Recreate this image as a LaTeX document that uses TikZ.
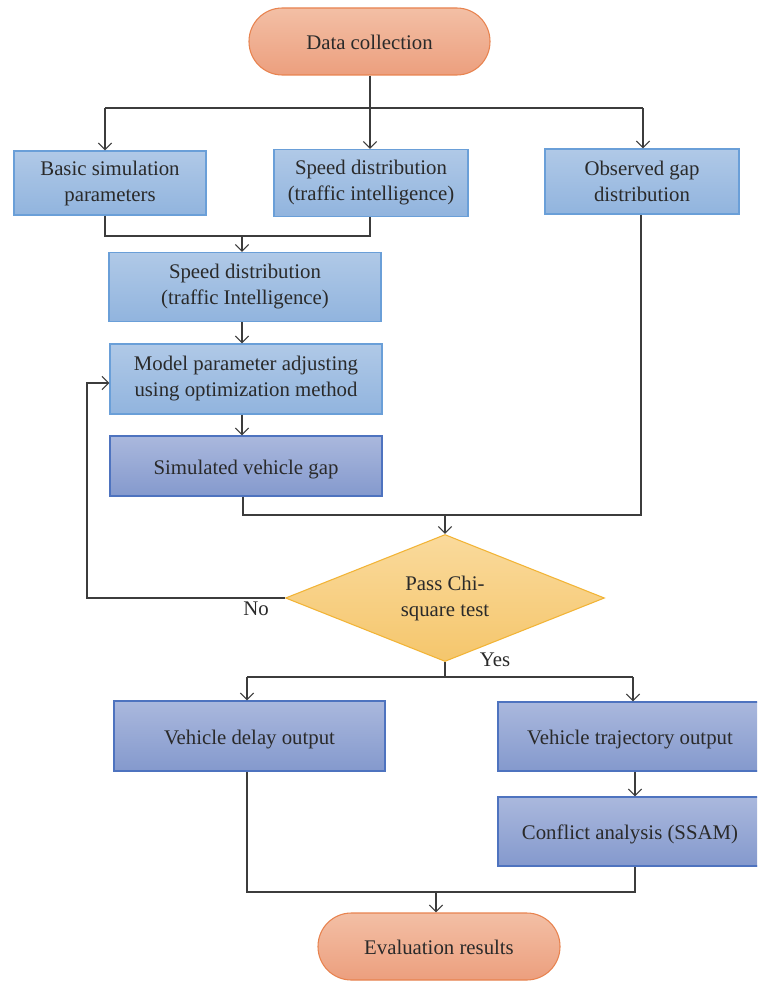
\documentclass[tikz,border=0pt]{standalone}
\usepackage{fontspec}
\setmainfont{Liberation Serif}
\usetikzlibrary{arrows.meta,shapes.geometric}
\definecolor{linec}{HTML}{3C3C3C}
\definecolor{txt}{HTML}{2A2A2A}
\definecolor{pilltop}{HTML}{F3BFA5}
\definecolor{pillbot}{HTML}{EC9F7E}
\definecolor{pilledge}{HTML}{E8834F}
\definecolor{lbtop}{HTML}{B0C9E7}
\definecolor{lbbot}{HTML}{91B4DE}
\definecolor{lbedge}{HTML}{6A9FD8}
\definecolor{dbtop}{HTML}{AAB8DD}
\definecolor{dbbot}{HTML}{8499CD}
\definecolor{dbedge}{HTML}{4E73BF}
\definecolor{dmtop}{HTML}{FADA9C}
\definecolor{dmbot}{HTML}{F5C66C}
\definecolor{dmedge}{HTML}{F2B436}
\begin{document}
\begin{tikzpicture}[x=0.75pt,y=-0.75pt,
  every node/.style={font=\fontsize{15.6pt}{19.5pt}\selectfont, text=txt, align=center, inner sep=0pt},
  one/.style={text height=12pt, text depth=0pt},
  pill/.style={draw=pilledge, line width=0.8pt, top color=pilltop, bottom color=pillbot, rounded corners=25pt, minimum width=180.75pt, minimum height=50.25pt},
  lbox/.style={draw=lbedge, line width=0.8pt, top color=lbtop, bottom color=lbbot},
  dbox/.style={draw=dbedge, line width=0.8pt, top color=dbtop, bottom color=dbbot},
  dmd/.style={diamond, draw=dmedge, line width=0.8pt, top color=dmtop, bottom color=dmbot, minimum width=239.25pt, minimum height=95.25pt, aspect=2.51},
  conn/.style={draw=linec, line width=0.9pt},
  arr/.style={conn, -{Straight Barb[length=5pt,width=10pt,line width=0.9pt]}},
  lbl/.style={font=\fontsize{15.6pt}{19.5pt}\selectfont}
]
\useasboundingbox (0,0) rectangle (757,981);
\clip (0,0) rectangle (757,981);
\fill[white] (0,0) rectangle (757,981);

\node[pill, one] (dc) at (369.5,41.5) {Data collection};
\node[lbox, minimum width=144pt, minimum height=48pt] (b1) at (110,183) {Basic simulation\\parameters};
\node[lbox, minimum width=145.5pt, minimum height=50.25pt] (b2) at (371,183) {Speed distribution\\(traffic intelligence)};
\node[lbox, minimum width=145.5pt, minimum height=48.75pt] (b3) at (642,181.5) {Observed gap\\distribution};
\node[lbox, minimum width=204pt, minimum height=51.75pt] (b4) at (245,287) {Speed distribution\\(traffic Intelligence)};
\node[lbox, minimum width=204pt, minimum height=52.5pt] (b5) at (246,379) {Model parameter adjusting\\using optimization method};
\node[dbox, one, minimum width=204pt, minimum height=45pt] (b6) at (246,466) {Simulated vehicle gap};
\node[dmd] (dm) at (445,598) {Pass Chi-\\square test};
\node[dbox, one, minimum width=203.25pt, minimum height=52.5pt] (b7) at (249.5,736) {Vehicle delay output};
\node[dbox, one, minimum width=204pt, minimum height=51.75pt] (b8) at (634,736.5) {\hspace*{-6pt}Vehicle trajectory output};
\node[dbox, one, minimum width=204pt, minimum height=51.75pt] (b9) at (634,831.5) {\hspace*{-6pt}Conflict analysis (SSAM)};
\node[pill, one, minimum width=181.5pt] (er) at (439,946.5) {Evaluation results};

\node[lbl] (no) at (256,609) {No};
\node[lbl] (yes) at (495,660) {Yes};

% top fan-out
\coordinate (j1) at (370,108);
\coordinate (j1l) at (105,108);
\coordinate (j1r) at (643,108);
\draw[conn] (j1 |- dc.south) -- (j1);
\draw[conn] (j1l) -- (j1r);
\draw[arr] (j1l) -- (j1l |- b1.north);
\draw[arr] (j1) -- (j1 |- b2.north);
\draw[arr] (j1r) -- (j1r |- b3.north);

% merge b1,b2
\coordinate (m1l) at (105,236);
\coordinate (m1r) at (370,236);
\coordinate (m1c) at (242,236);
\draw[conn] (m1l |- b1.south) -- (m1l) -- (m1r) -- (m1r |- b2.south);
\draw[arr] (m1c) -- (m1c |- b4.north);

\coordinate (c2) at (242,330);
\draw[arr] (c2 |- b4.south) -- (c2 |- b5.north);
\draw[arr] (c2 |- b5.south) -- (c2 |- b6.north);

% merge b6,b3
\coordinate (m2l) at (243,515);
\coordinate (m2r) at (641,515);
\coordinate (m2c) at (445,515);
\draw[conn] (m2l |- b6.south) -- (m2l) -- (m2r) -- (m2r |- b3.south);
\draw[arr] (m2c) -- (dm.north);

% No loop
\coordinate (nl) at (87,598);
\coordinate (nt) at (87,383);
\draw[arr] (dm.west) -- (nl) -- (nt) -- (nt -| b5.west);

% Yes split
\coordinate (s1) at (445,677);
\coordinate (s1l) at (247,677);
\coordinate (s1r) at (633,677);
\draw[conn] (dm.south) -- (s1);
\draw[conn] (s1l) -- (s1r);
\draw[arr] (s1l) -- (s1l |- b7.north);
\draw[arr] (s1r) -- (s1r |- b8.north);

\coordinate (c3) at (635,780);
\draw[arr] (c3 |- b8.south) -- (c3 |- b9.north);

% final merge
\coordinate (m3l) at (247,892);
\coordinate (m3r) at (635,892);
\coordinate (m3c) at (436,892);
\draw[conn] (m3l |- b7.south) -- (m3l) -- (m3r) -- (m3r |- b9.south);
\draw[arr] (m3c) -- (m3c |- er.north);
\end{tikzpicture}
\end{document}
